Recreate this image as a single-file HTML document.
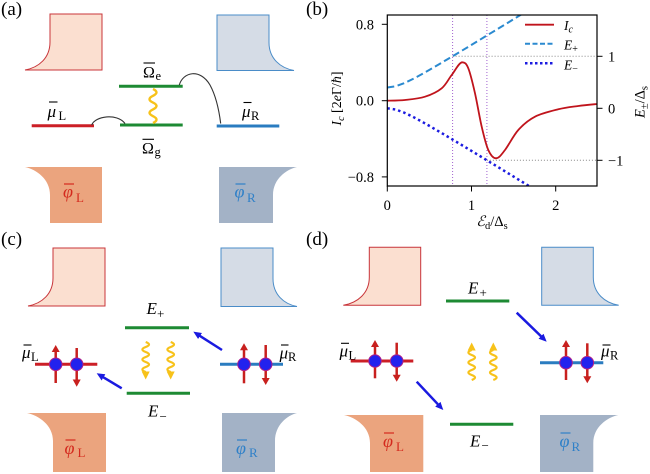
<!DOCTYPE html>
<html><head><meta charset="utf-8"><style>
html,body{margin:0;padding:0;background:#fff;}
svg{display:block;}
svg text{font-family:"Liberation Serif","DejaVu Serif",serif;}
</style></head><body>
<svg width="650" height="474" viewBox="0 0 650 474" xmlns="http://www.w3.org/2000/svg">
<defs>
<clipPath id="pc"><rect x="387.3" y="15" width="209.7" height="171"/></clipPath>
<marker id="ab" viewBox="0 0 10 10" refX="6" refY="5" markerWidth="8" markerHeight="8" markerUnits="userSpaceOnUse" orient="auto"><path d="M0,0.5 L10,5 L0,9.5 Z" fill="#1a1ae0"/></marker>
</defs>
<rect width="650" height="474" fill="#fff"/>

<!-- Panel labels -->
<text x="1" y="15" font-size="19">(a)</text>
<text x="306" y="15" font-size="19">(b)</text>
<text x="1" y="245" font-size="19">(c)</text>
<text x="306" y="245" font-size="19">(d)</text>

<!-- ================= Panel (a) ================= -->
<path d="M50,14 L102,14 L102,70 L25,70 C38.8,67.5 50,58 50,42 Z" fill="#fbdfd0" stroke="#c8353a" stroke-width="1"/>
<path d="M269,15 L217,15 L217,70.5 L294,70.5 C280.3,68 269,58.5 269,42.5 Z" fill="#d5dce6" stroke="#4a8cc8" stroke-width="1"/>
<path d="M25,167 L102,167 L102,223 L50,223 L50,195 C50,179 36.3,169.5 25,167 Z" fill="#eba47e"/>
<path d="M219,167 L297,167 C286.2,169.5 273,179 273,195 L273,223 L219,223 Z" fill="#a3b2c6"/>
<text x="63" y="197.5" font-size="18" font-style="italic" fill="#d42a1e">φ</text>
<text x="76" y="202" font-size="13" fill="#d42a1e">L</text>
<line x1="64" y1="184" x2="74" y2="184" stroke="#d42a1e" stroke-width="1.2"/>
<text x="234.5" y="197.5" font-size="18" font-style="italic" fill="#2f80c8">φ</text>
<text x="247" y="202" font-size="13" fill="#2f80c8">R</text>
<line x1="235.5" y1="184" x2="245.5" y2="184" stroke="#2f80c8" stroke-width="1.2"/>

<line x1="31.7" y1="125.7" x2="94" y2="125.7" stroke="#cc1f26" stroke-width="3"/>
<line x1="120" y1="125" x2="182.7" y2="125" stroke="#1d8a33" stroke-width="3"/>
<line x1="119" y1="86.3" x2="182.7" y2="86.3" stroke="#1d8a33" stroke-width="3"/>
<line x1="216.7" y1="126" x2="279.3" y2="126" stroke="#2a7cc0" stroke-width="3"/>
<path d="M91.7,125 C95,116 117,113 125,123.5" fill="none" stroke="#333" stroke-width="1.1"/>
<path d="M179.3,85 C183,72 200,68 210,85 C216,96 219,110 220.7,123.5" fill="none" stroke="#333" stroke-width="1.1"/>
<path d="M153,89 q7,3.4 0,6.8 q-7,3.4 0,6.8 q7,3.4 0,6.8 q-7,3.4 0,6.8 q7,3.4 0,6.8" fill="none" stroke="#f7c21a" stroke-width="2.4"/>

<text x="47.5" y="117" font-size="17" font-style="italic">μ</text>
<text x="58.5" y="120" font-size="12.5">L</text>
<line x1="49" y1="102" x2="57.5" y2="102" stroke="#000" stroke-width="1.1"/>
<text x="242" y="117" font-size="17" font-style="italic">μ</text>
<text x="251" y="120" font-size="12.5">R</text>
<line x1="243.5" y1="102.5" x2="251.5" y2="102.5" stroke="#000" stroke-width="1.1"/>
<text x="143" y="77.5" font-size="16">Ω</text>
<text x="155.5" y="80" font-size="12.5">e</text>
<line x1="143.5" y1="63" x2="155" y2="63" stroke="#000" stroke-width="1.1"/>
<text x="142" y="153.5" font-size="16">Ω</text>
<text x="154.5" y="156" font-size="12.5">g</text>
<line x1="142.5" y1="139.3" x2="154" y2="139.3" stroke="#000" stroke-width="1.1"/>

<!-- ================= Panel (b) ================= -->
<g clip-path="url(#pc)">
<line x1="452.6" y1="15" x2="452.6" y2="186" stroke="#a060d0" stroke-width="1" stroke-dasharray="1,2"/>
<line x1="486.9" y1="15" x2="486.9" y2="186" stroke="#a060d0" stroke-width="1" stroke-dasharray="1,2"/>
<line x1="452.6" y1="56.3" x2="597" y2="56.3" stroke="#888" stroke-width="1" stroke-dasharray="1,2"/>
<line x1="486.9" y1="160.3" x2="597" y2="160.3" stroke="#888" stroke-width="1" stroke-dasharray="1,2"/>
<polyline fill="none" stroke="#2b8ad0" stroke-width="2" stroke-dasharray="7,3.5" points="387.3,87.5 395.7,86.3 404.1,83.2 412.6,79.15 421,74.65 429.4,69.9 437.8,65 446.2,60 454.7,55 463.1,49.95 471.5,44.9 479.9,39.75 488.3,34.6 496.8,29.5 505.2,24.4 513.6,19.2 522,14.05 530.4,8.9"/>
<polyline fill="none" stroke="#1c1ce0" stroke-width="2.5" stroke-dasharray="2.5,3" points="387.3,108.3 395.7,109.5 404.1,112.6 412.6,116.65 421,121.15 429.4,125.9 437.8,130.8 446.2,135.75 454.7,140.8 463.1,145.85 471.5,150.9 479.9,156 488.3,161.2 496.8,166.3 505.2,171.4 513.6,176.6 522,181.75 530.4,186.9 538.8,192"/>
<path fill="none" stroke="#c0141c" stroke-width="1.8" d="M387,100.7 C390,100.6 398.7,100.7 405,100 C411.3,99.3 418.9,98.65 425,96.7 C431.1,94.75 437.25,91.9 441.7,88.3 C446.15,84.7 448.3,79.3 451.7,75 C455.1,70.7 459,62.3 462.3,62.3 C464.5,62.3 466.2,63.1 468.3,68.3 C470.4,73.5 472.8,83.6 475,93.3 C477.2,103 479.5,117.25 481.7,126.7 C483.9,136.15 485.9,144.7 488.3,150 C490.7,155.3 493,158.3 496,158.3 C499,158.3 501.3,154.7 505,150 C508.7,145.3 513.3,135.55 518.3,130 C523.3,124.45 528.3,120.15 535,116.7 C541.7,113.25 551.1,111.1 558.3,109.3 C565.5,107.5 571.85,106.9 578.3,106 C584.75,105.1 593.9,104.3 597,104"/>
</g>
<rect x="387.3" y="15" width="209.7" height="171" fill="none" stroke="#000" stroke-width="1.2"/>
<g stroke="#000" stroke-width="1">
<line x1="381.8" y1="24.3" x2="387.3" y2="24.3"/>
<line x1="381.8" y1="100.7" x2="387.3" y2="100.7"/>
<line x1="381.8" y1="176.9" x2="387.3" y2="176.9"/>
<line x1="387.3" y1="186" x2="387.3" y2="191.5"/>
<line x1="471.5" y1="186" x2="471.5" y2="191.5"/>
<line x1="555.7" y1="186" x2="555.7" y2="191.5"/>
<line x1="597" y1="56.3" x2="602.5" y2="56.3"/>
<line x1="597" y1="108.3" x2="602.5" y2="108.3"/>
<line x1="597" y1="160.3" x2="602.5" y2="160.3"/>
</g>
<g font-size="14.5">
<text x="374" y="29.3" text-anchor="end">0.8</text>
<text x="374" y="105.7" text-anchor="end">0.0</text>
<text x="374" y="181.9" text-anchor="end">−0.8</text>
<text x="387.3" y="210" text-anchor="middle">0</text>
<text x="471.5" y="210" text-anchor="middle">1</text>
<text x="555.7" y="210" text-anchor="middle">2</text>
<text x="608" y="61.3">1</text>
<text x="608" y="113.3">0</text>
<text x="608" y="165.3">−1</text>
</g>
<text x="492" y="226" font-size="14.5" text-anchor="middle"><tspan font-style="italic">ℰ</tspan><tspan font-size="10.5" dy="3">d</tspan><tspan dy="-3">/Δ</tspan><tspan font-size="10.5" dy="3">s</tspan></text>
<text transform="translate(341,98.5) rotate(-90)" font-size="14" text-anchor="middle"><tspan font-style="italic">I</tspan><tspan font-style="italic" font-size="10" dy="3">c</tspan><tspan dy="-3"> [2</tspan><tspan font-style="italic">e</tspan><tspan>Γ/</tspan><tspan font-style="italic">ħ</tspan><tspan>]</tspan></text>
<text transform="translate(644.5,102) rotate(-90)" font-size="14.5" text-anchor="middle"><tspan font-style="italic">E</tspan><tspan font-size="10.5" dy="3">±</tspan><tspan dy="-3">/Δ</tspan><tspan font-size="10.5" dy="3">s</tspan></text>
<line x1="525" y1="24.7" x2="554" y2="24.7" stroke="#c0141c" stroke-width="1.8"/>
<line x1="525" y1="43.7" x2="554" y2="43.7" stroke="#2b8ad0" stroke-width="2" stroke-dasharray="5,2.5"/>
<line x1="525" y1="63.3" x2="554" y2="63.3" stroke="#1c1ce0" stroke-width="2.5" stroke-dasharray="2.5,2.5"/>
<text x="564" y="30" font-size="13.5" font-style="italic">I<tspan font-size="10" dy="2.5">c</tspan></text>
<text x="564" y="49.3" font-size="13.5" font-style="italic">E<tspan font-style="normal" font-size="10" dy="2.5">+</tspan></text>
<text x="564" y="69.3" font-size="13.5" font-style="italic">E<tspan font-style="normal" font-size="10" dy="2.5">−</tspan></text>

<!-- ================= Panel (c) ================= -->
<path d="M53,248 L105,248 L105,306 L28,306 C41.8,303.5 53,294 53,278 Z" fill="#fbdfd0" stroke="#c8353a" stroke-width="1"/>
<path d="M273,248 L221,248 L221,306.5 L297,306.5 C283.8,304 273,294.5 273,278.5 Z" fill="#d5dce6" stroke="#4a8cc8" stroke-width="1"/>
<path d="M27,413 L106,413 L106,472 L53,472 L53,441 C53,425 38.7,415.5 27,413 Z" fill="#eba47e"/>
<path d="M222,413 L297,413 C287.1,415.5 275,425 275,441 L275,472 L222,472 Z" fill="#a3b2c6"/>
<text x="64.5" y="454" font-size="18" font-style="italic" fill="#d42a1e">φ</text>
<text x="77.5" y="457" font-size="13" fill="#d42a1e">L</text>
<line x1="65.5" y1="440" x2="75.5" y2="440" stroke="#d42a1e" stroke-width="1.2"/>
<text x="236" y="454" font-size="18" font-style="italic" fill="#2f80c8">φ</text>
<text x="249" y="457" font-size="13" fill="#2f80c8">R</text>
<line x1="237" y1="440" x2="247" y2="440" stroke="#2f80c8" stroke-width="1.2"/>

<line x1="125" y1="327.7" x2="189" y2="327.7" stroke="#1d8a33" stroke-width="3"/>
<line x1="126.7" y1="393.3" x2="190" y2="393.3" stroke="#1d8a33" stroke-width="3"/>
<text x="146.5" y="314" font-size="17" font-style="italic">E</text>
<text x="157" y="318" font-size="13">+</text>
<text x="148" y="416.7" font-size="17" font-style="italic">E</text>
<text x="159.5" y="421" font-size="13">−</text>

<g fill="none" stroke="#f7c21a" stroke-width="2.2">
<path d="M145.7,342 q6.6,2.5 0,5 q-6.6,2.5 0,5 q6.6,2.5 0,5 q-6.6,2.5 0,5 q6.6,2.5 0,5 q-6.6,2.5 0,5"/>
<path d="M170.7,342 q6.6,2.5 0,5 q-6.6,2.5 0,5 q6.6,2.5 0,5 q-6.6,2.5 0,5 q6.6,2.5 0,5 q-6.6,2.5 0,5"/>
</g>
<polygon points="141.7,371.5 149.7,371.5 145.7,379.5" fill="#f7c21a"/>
<polygon points="166.7,371.5 174.7,371.5 170.7,379.5" fill="#f7c21a"/>

<line x1="222" y1="350" x2="196" y2="333.4" stroke="#1a1ae0" stroke-width="2.5" marker-end="url(#ab)"/>
<line x1="121.7" y1="388.3" x2="99.4" y2="374.9" stroke="#1a1ae0" stroke-width="2.5" marker-end="url(#ab)"/>

<line x1="35" y1="364.3" x2="97.3" y2="364.3" stroke="#cc1f26" stroke-width="3"/>
<g stroke="#c8201e" stroke-width="2.5">
<line x1="55.7" y1="383" x2="55.7" y2="351"/>
<line x1="76.7" y1="348" x2="76.7" y2="380.5"/>
<line x1="244" y1="383.3" x2="244" y2="349.3"/>
<line x1="265.7" y1="345" x2="265.7" y2="379"/>
</g>
<g fill="#c8201e">
<polygon points="51.7,352 59.7,352 55.7,345"/>
<polygon points="72.7,379.5 80.7,379.5 76.7,386.7"/>
<polygon points="240,350.3 248,350.3 244,343.3"/>
<polygon points="261.7,378 269.7,378 265.7,385"/>
</g>
<line x1="220" y1="364.3" x2="283" y2="364.3" stroke="#2a7cc0" stroke-width="3"/>
<g fill="#2222ee" stroke="#b0208a" stroke-width="1">
<circle cx="55.7" cy="364.3" r="6.3"/>
<circle cx="76.7" cy="364.3" r="6.3"/>
<circle cx="244" cy="364.3" r="6.3"/>
<circle cx="265.7" cy="364.3" r="6.3"/>
</g>
<text x="22" y="358" font-size="17" font-style="italic">μ</text>
<text x="31" y="361" font-size="12.5">L</text>
<line x1="23.5" y1="345" x2="31.5" y2="345" stroke="#000" stroke-width="1.1"/>
<text x="279.5" y="358.3" font-size="17" font-style="italic">μ</text>
<text x="288" y="361" font-size="12.5">R</text>
<line x1="281" y1="345" x2="288.5" y2="345" stroke="#000" stroke-width="1.1"/>

<!-- ================= Panel (d) ================= -->
<path d="M369.3,247.3 L420.7,247.3 L420.7,305.3 L343.3,305.3 C357.6,302.8 369.3,293.3 369.3,277.3 Z" fill="#fbdfd0" stroke="#c8353a" stroke-width="1"/>
<path d="M593.3,247.3 L541.7,247.3 L541.7,305.3 L618.7,305.3 C604.7,302.8 593.3,293.3 593.3,277.3 Z" fill="#d5dce6" stroke="#4a8cc8" stroke-width="1"/>
<path d="M344,415 L423.3,415 L423.3,472 L370,472 L370,443 C370,427 355.7,417.5 344,415 Z" fill="#eba47e"/>
<path d="M540,415 L618.3,415 C607.1,417.5 593.3,427 593.3,443 L593.3,472 L540,472 Z" fill="#a3b2c6"/>
<text x="383" y="447" font-size="18" font-style="italic" fill="#d42a1e">φ</text>
<text x="396" y="451" font-size="13" fill="#d42a1e">L</text>
<line x1="384" y1="433" x2="394" y2="433" stroke="#d42a1e" stroke-width="1.2"/>
<text x="559.5" y="447" font-size="18" font-style="italic" fill="#2f80c8">φ</text>
<text x="571.5" y="451" font-size="13" fill="#2f80c8">R</text>
<line x1="560.5" y1="433" x2="570.5" y2="433" stroke="#2f80c8" stroke-width="1.2"/>

<line x1="446" y1="301" x2="509.3" y2="301" stroke="#1d8a33" stroke-width="3"/>
<line x1="450" y1="424.3" x2="513.3" y2="424.3" stroke="#1d8a33" stroke-width="3"/>
<text x="468" y="293.3" font-size="17" font-style="italic">E</text>
<text x="479.5" y="297" font-size="13">+</text>
<text x="470" y="446.7" font-size="17" font-style="italic">E</text>
<text x="481.5" y="450" font-size="13">−</text>

<g fill="none" stroke="#f7c21a" stroke-width="2.2">
<path d="M471.7,380 q6.6,-2.5 0,-5 q-6.6,-2.5 0,-5 q6.6,-2.5 0,-5 q-6.6,-2.5 0,-5 q6.6,-2.5 0,-5 q-6.6,-2.5 0,-5"/>
<path d="M493.3,380 q6.6,-2.5 0,-5 q-6.6,-2.5 0,-5 q6.6,-2.5 0,-5 q-6.6,-2.5 0,-5 q6.6,-2.5 0,-5 q-6.6,-2.5 0,-5"/>
</g>
<polygon points="467.7,350.5 475.7,350.5 471.7,342.5" fill="#f7c21a"/>
<polygon points="489.3,350.5 497.3,350.5 493.3,342.5" fill="#f7c21a"/>

<line x1="516.7" y1="312.7" x2="544.4" y2="339.5" stroke="#1a1ae0" stroke-width="2.5" marker-end="url(#ab)"/>
<line x1="416.7" y1="381.7" x2="441.1" y2="407.7" stroke="#1a1ae0" stroke-width="2.5" marker-end="url(#ab)"/>

<line x1="350.7" y1="361" x2="413.3" y2="361" stroke="#cc1f26" stroke-width="3"/>
<line x1="540" y1="362.7" x2="603.3" y2="362.7" stroke="#2a7cc0" stroke-width="3"/>
<g stroke="#c8201e" stroke-width="2.5">
<line x1="375" y1="378.3" x2="375" y2="346"/>
<line x1="396.7" y1="342.7" x2="396.7" y2="375.5"/>
<line x1="566" y1="380" x2="566" y2="346"/>
<line x1="587.3" y1="343.3" x2="587.3" y2="377"/>
</g>
<g fill="#c8201e">
<polygon points="371,347 379,347 375,340"/>
<polygon points="392.7,374.7 400.7,374.7 396.7,381.7"/>
<polygon points="562,347 570,347 566,340"/>
<polygon points="583.3,376.3 591.3,376.3 587.3,383.3"/>
</g>
<g fill="#2222ee" stroke="#b0208a" stroke-width="1">
<circle cx="375" cy="361" r="6.3"/>
<circle cx="396.7" cy="361" r="6.3"/>
<circle cx="566" cy="362.7" r="6.3"/>
<circle cx="587.3" cy="362.7" r="6.3"/>
</g>
<text x="339.5" y="356.7" font-size="17" font-style="italic">μ</text>
<text x="348.5" y="359.5" font-size="12.5">L</text>
<line x1="341" y1="343.3" x2="349" y2="343.3" stroke="#000" stroke-width="1.1"/>
<text x="601" y="356.7" font-size="17" font-style="italic">μ</text>
<text x="610" y="359.5" font-size="12.5">R</text>
<line x1="602.5" y1="345" x2="610.5" y2="345" stroke="#000" stroke-width="1.1"/>
</svg>
</body></html>
